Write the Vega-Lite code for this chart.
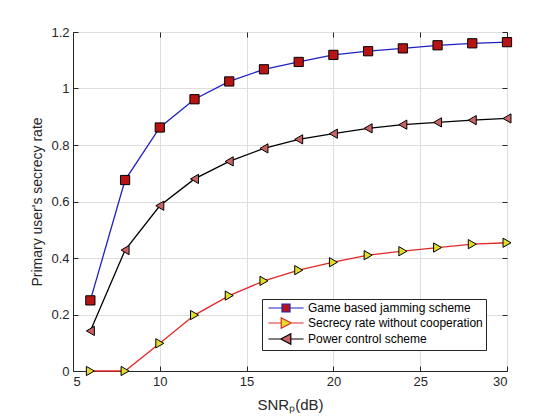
{
  "$schema": "https://vega.github.io/schema/vega-lite/v6.json",
  "width": 434,
  "height": 339,
  "autosize": {"type": "none"},
  "padding": {"left": 73, "top": 32, "right": 53, "bottom": 49},
  "background": "white",
  "config": {
    "font": "Liberation Sans",
    "view": {"stroke": "#262626", "strokeWidth": 1},
    "axis": {"labelFont": "Liberation Sans", "titleFont": "Liberation Sans", "labelColor": "#262626", "titleColor": "#262626", "tickColor": "#262626", "domainColor": "#262626", "titleFontWeight": "normal", "gridColor": "#dedede", "gridWidth": 1}
  },
  "data": {"values": [
    {"snr": 6, "rate": 0.25, "series": "Game based jamming scheme"},
    {"snr": 8, "rate": 0.676, "series": "Game based jamming scheme"},
    {"snr": 10, "rate": 0.862, "series": "Game based jamming scheme"},
    {"snr": 12, "rate": 0.962, "series": "Game based jamming scheme"},
    {"snr": 14, "rate": 1.025, "series": "Game based jamming scheme"},
    {"snr": 16, "rate": 1.068, "series": "Game based jamming scheme"},
    {"snr": 18, "rate": 1.094, "series": "Game based jamming scheme"},
    {"snr": 20, "rate": 1.119, "series": "Game based jamming scheme"},
    {"snr": 22, "rate": 1.132, "series": "Game based jamming scheme"},
    {"snr": 24, "rate": 1.142, "series": "Game based jamming scheme"},
    {"snr": 26, "rate": 1.153, "series": "Game based jamming scheme"},
    {"snr": 28, "rate": 1.16, "series": "Game based jamming scheme"},
    {"snr": 30, "rate": 1.164, "series": "Game based jamming scheme"},
    {"snr": 6, "rate": 0, "series": "Secrecy rate without cooperation"},
    {"snr": 8, "rate": 0, "series": "Secrecy rate without cooperation"},
    {"snr": 10, "rate": 0.098, "series": "Secrecy rate without cooperation"},
    {"snr": 12, "rate": 0.198, "series": "Secrecy rate without cooperation"},
    {"snr": 14, "rate": 0.267, "series": "Secrecy rate without cooperation"},
    {"snr": 16, "rate": 0.319, "series": "Secrecy rate without cooperation"},
    {"snr": 18, "rate": 0.357, "series": "Secrecy rate without cooperation"},
    {"snr": 20, "rate": 0.385, "series": "Secrecy rate without cooperation"},
    {"snr": 22, "rate": 0.41, "series": "Secrecy rate without cooperation"},
    {"snr": 24, "rate": 0.424, "series": "Secrecy rate without cooperation"},
    {"snr": 26, "rate": 0.437, "series": "Secrecy rate without cooperation"},
    {"snr": 28, "rate": 0.449, "series": "Secrecy rate without cooperation"},
    {"snr": 30, "rate": 0.454, "series": "Secrecy rate without cooperation"},
    {"snr": 6, "rate": 0.142, "series": "Power control scheme"},
    {"snr": 8, "rate": 0.428, "series": "Power control scheme"},
    {"snr": 10, "rate": 0.585, "series": "Power control scheme"},
    {"snr": 12, "rate": 0.68, "series": "Power control scheme"},
    {"snr": 14, "rate": 0.742, "series": "Power control scheme"},
    {"snr": 16, "rate": 0.788, "series": "Power control scheme"},
    {"snr": 18, "rate": 0.82, "series": "Power control scheme"},
    {"snr": 20, "rate": 0.84, "series": "Power control scheme"},
    {"snr": 22, "rate": 0.859, "series": "Power control scheme"},
    {"snr": 24, "rate": 0.872, "series": "Power control scheme"},
    {"snr": 26, "rate": 0.88, "series": "Power control scheme"},
    {"snr": 28, "rate": 0.888, "series": "Power control scheme"},
    {"snr": 30, "rate": 0.894, "series": "Power control scheme"}
  ]},
  "layer": [
    {
      "mark": {"type": "line", "strokeWidth": 1.3},
      "encoding": {
        "x": {"field": "snr", "type": "quantitative", "scale": {"domain": [5, 30], "nice": false},
              "axis": {"orient": "bottom", "values": [5, 10, 15, 20, 25, 30], "title": "SNRₚ(dB)", "titleFontSize": 15, "titlePadding": 9, "labelFontSize": 13, "labelPadding": 9, "tickSize": -5, "grid": true}},
        "y": {"field": "rate", "type": "quantitative", "scale": {"domain": [0, 1.2], "nice": false},
              "axis": {"orient": "left", "values": [0, 0.2, 0.4, 0.6, 0.8, 1, 1.2], "format": "~g", "title": "Primary user's secrecy rate", "titleFontSize": 14, "titlePadding": 6, "labelFontSize": 13, "labelPadding": 9, "tickSize": -5, "grid": true}},
        "color": {"field": "series", "type": "nominal",
                  "scale": {"domain": ["Game based jamming scheme", "Secrecy rate without cooperation", "Power control scheme"], "range": ["#2020c0", "#e02828", "#000000"]},
                  "legend": null},
        "order": {"field": "snr", "type": "quantitative"}
      }
    },
    {
      "mark": {"type": "point", "filled": true, "stroke": "#000000", "strokeWidth": 1, "opacity": 1},
      "encoding": {
        "x": {"field": "snr", "type": "quantitative", "axis": {"orient": "top", "values": [5, 10, 15, 20, 25, 30], "labels": false, "title": null, "grid": false, "domain": false, "tickSize": -5}},
        "y": {"field": "rate", "type": "quantitative", "axis": {"orient": "right", "values": [0, 0.2, 0.4, 0.6, 0.8, 1, 1.2], "labels": false, "title": null, "grid": false, "domain": false, "tickSize": -5}},
        "shape": {"field": "series", "type": "nominal",
                  "scale": {"domain": ["Game based jamming scheme", "Secrecy rate without cooperation", "Power control scheme"], "range": ["square", "triangle-right", "triangle-left"]},
                  "legend": null},
        "fill": {"field": "series", "type": "nominal",
                 "scale": {"domain": ["Game based jamming scheme", "Secrecy rate without cooperation", "Power control scheme"], "range": ["#b81414", "#e0dc28", "#c86464"]},
                 "legend": null},
        "size": {"value": 85}
      }
    },
    {
      "transform": [{"filter": "false"}],
      "mark": {"type": "point", "filled": true, "strokeWidth": 1.2, "opacity": 1},
      "encoding": {
        "shape": {"field": "series", "type": "nominal", "title": null,
                  "scale": {"domain": ["Game based jamming scheme", "Secrecy rate without cooperation", "Power control scheme"],
                            "range": ["M-4.4,0H-1M1,0H4.4M-1,-1H1V1H-1Z", "M-4.4,0H-1.2M1.3,0H4.4M-1.2,-1.3L1.3,0L-1.2,1.3Z", "M-4.4,0H-1.3M1.2,0H4.4M1.2,-1.3L-1.3,0L1.2,1.3Z"]},
                  "legend": {"orient": "none", "legendX": 189, "legendY": 267, "title": null, "strokeColor": "#262626", "fillColor": "white", "padding": 3, "labelFont": "Liberation Sans", "labelFontSize": 12, "labelColor": "#000000", "labelLimit": 0, "rowPadding": 0, "symbolSize": 64, "symbolOffset": 15, "labelOffset": 16, "symbolStrokeWidth": 1.2}},
        "stroke": {"field": "series", "type": "nominal", "title": null,
                   "scale": {"domain": ["Game based jamming scheme", "Secrecy rate without cooperation", "Power control scheme"], "range": ["#2020c0", "#e02828", "#000000"]}},
        "fill": {"field": "series", "type": "nominal", "title": null,
                 "scale": {"domain": ["Game based jamming scheme", "Secrecy rate without cooperation", "Power control scheme"], "range": ["#b81414", "#e0dc28", "#c86464"]}}
      }
    }
  ],
  "resolve": {
    "scale": {"shape": "independent", "fill": "independent", "stroke": "independent"},
    "axis": {"x": "independent", "y": "independent"}
  }
}
